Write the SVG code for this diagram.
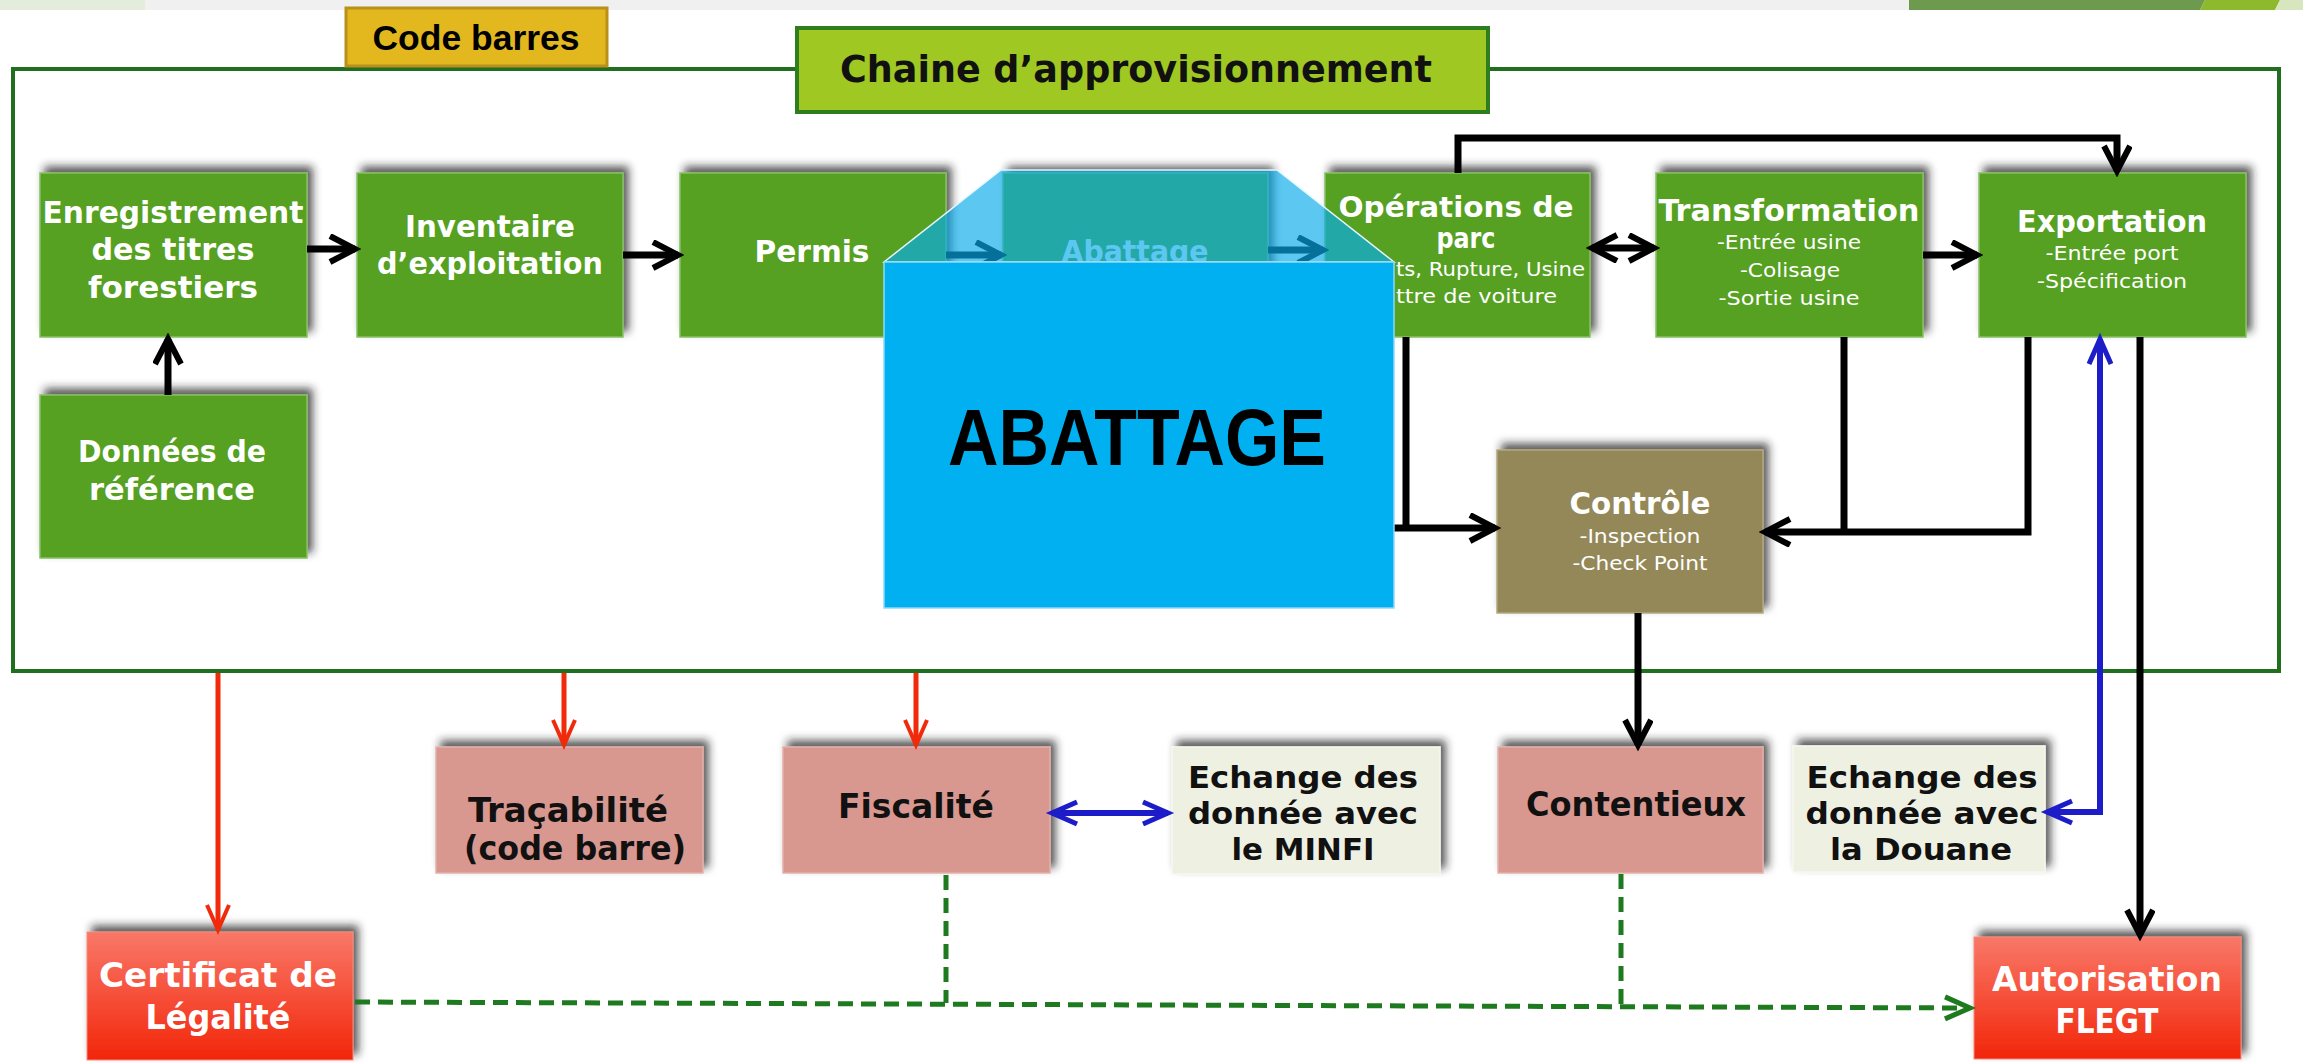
<svg xmlns="http://www.w3.org/2000/svg" width="2303" height="1063" viewBox="0 0 2303 1063">
<style>
.t{font-family:'DejaVu Sans Condensed','DejaVu Sans',sans-serif;font-stretch:condensed;font-weight:bold;text-anchor:middle}
.w{fill:#ffffff}
.k{fill:#111111}
.big{font-size:31px}
.sub{font-size:20px;font-weight:normal}
.lbl{font-size:34px}
.lbl3{font-size:31px}
.green{fill:#57A023;stroke:#86C063;stroke-width:1.5}
.pink{fill:#D8978F;stroke:#E2B0AA;stroke-width:1.5}
.cream{fill:#EEF0E2;stroke:#F6F7EE;stroke-width:1.5}
.brown{fill:#948858;stroke:#B2A87E;stroke-width:1.5}
.redg{fill:url(#rg);stroke:#F58A7A;stroke-width:1}
.blk{stroke:#000;stroke-width:7;fill:none}
.red{stroke:#F02A0A;stroke-width:5;fill:none}
.blu{stroke:#1C1CC8;stroke-width:6;fill:none}
.dash{stroke:#1E7A1E;stroke-width:5;fill:none;stroke-dasharray:15 8}
</style>
<defs>
<linearGradient id="rg" x1="0" y1="0" x2="0" y2="1">
<stop offset="0" stop-color="#F97868"/>
<stop offset="1" stop-color="#F2260A"/>
</linearGradient>
<filter id="sh" x="-10%" y="-25%" width="130%" height="150%">
<feDropShadow dx="5" dy="-6" stdDeviation="4" flood-color="#222" flood-opacity="0.75"/>
</filter>
<marker id="ak" markerUnits="userSpaceOnUse" markerWidth="36" markerHeight="34" refX="30" refY="15" orient="auto-start-reverse">
<path d="M5,2 L30,15 L5,28" fill="none" stroke="#000" stroke-width="6"/>
</marker>
<marker id="ar" markerUnits="userSpaceOnUse" markerWidth="36" markerHeight="34" refX="28" refY="14" orient="auto-start-reverse">
<path d="M3,3 L28,14 L3,25" fill="none" stroke="#F02A0A" stroke-width="4"/>
</marker>
<marker id="ab" markerUnits="userSpaceOnUse" markerWidth="36" markerHeight="34" refX="28" refY="14" orient="auto-start-reverse">
<path d="M3,3 L28,14 L3,25" fill="none" stroke="#1C1CC8" stroke-width="5"/>
</marker>
<marker id="ag" markerUnits="userSpaceOnUse" markerWidth="36" markerHeight="34" refX="28" refY="14" orient="auto-start-reverse">
<path d="M3,3 L28,14 L3,25" fill="none" stroke="#1E7A1E" stroke-width="5"/>
</marker>
</defs>

<!-- background strip -->
<rect x="0" y="0" width="2303" height="10" fill="#F0F0F0"/>
<rect x="0" y="0" width="145" height="10" fill="#E4ECDC"/>
<polygon points="1909,0 2205,0 2200,10 1909,10" fill="#6E9A4F"/>
<polygon points="2205,0 2280,0 2275,10 2200,10" fill="#8DBA2C"/>
<polygon points="2280,0 2303,0 2303,10 2275,10" fill="#D8E6C0"/>
<rect x="0" y="10" width="2303" height="1053" fill="#FFFFFF"/>

<!-- outer frame -->
<rect id="frame" x="13" y="69" width="2266" height="602" fill="none" stroke="#1F6F1F" stroke-width="4"/>

<g id="n-codebarres">
<rect x="346" y="8" width="261" height="58" fill="#E2B81E" stroke="#B8901A" stroke-width="3"/>
<text x="476" y="50" font-family="'Liberation Sans',Arial,sans-serif" font-weight="bold" font-size="35" text-anchor="middle" fill="#000" textLength="207" lengthAdjust="spacingAndGlyphs">Code barres</text>
</g>
<g id="n-chaine">
<rect x="797" y="28" width="691" height="84" fill="#A0C823" stroke="#2E7D1E" stroke-width="4"/>
<text class="t k" x="1136" y="82" font-size="38" textLength="592" lengthAdjust="spacingAndGlyphs">Chaine d’approvisionnement</text>
</g>

<!-- nodes -->
<g id="n-enregistrement">
<rect class="green" x="40" y="173" width="267" height="164" filter="url(#sh)"/>
<text class="t w big" x="173" y="223" textLength="261" lengthAdjust="spacingAndGlyphs">Enregistrement</text>
<text class="t w big" x="173" y="260" textLength="163" lengthAdjust="spacingAndGlyphs">des titres</text>
<text class="t w big" x="173" y="298" textLength="170" lengthAdjust="spacingAndGlyphs">forestiers</text>
</g>
<g id="n-inventaire">
<rect class="green" x="357" y="173" width="266" height="164" filter="url(#sh)"/>
<text class="t w big" x="490" y="237" textLength="170" lengthAdjust="spacingAndGlyphs">Inventaire</text>
<text class="t w big" x="490" y="274" textLength="226" lengthAdjust="spacingAndGlyphs">d’exploitation</text>
</g>
<g id="n-permis">
<rect class="green" x="680" y="173" width="266" height="164" filter="url(#sh)"/>
<text class="t w big" x="812" y="262" textLength="115" lengthAdjust="spacingAndGlyphs">Permis</text>
</g>
<g id="n-abattage">
<rect class="green" x="1003" y="173" width="265" height="164" filter="url(#sh)"/>
<text class="t w big" x="1135" y="262" textLength="147" lengthAdjust="spacingAndGlyphs">Abattage</text>
</g>
<g id="n-operations">
<rect class="green" x="1325" y="173" width="265" height="164" filter="url(#sh)"/>
<text class="t w" x="1456" y="217" font-size="29" textLength="235" lengthAdjust="spacingAndGlyphs">Opérations de</text>
<text class="t w" x="1466" y="248" font-size="29" textLength="59" lengthAdjust="spacingAndGlyphs">parc</text>
<text class="t w sub" x="1396" y="276" style="text-anchor:start" textLength="189" lengthAdjust="spacingAndGlyphs">ts, Rupture, Usine</text>
<text class="t w sub" x="1396" y="303" style="text-anchor:start" textLength="161" lengthAdjust="spacingAndGlyphs">ttre de voiture</text>
</g>
<g id="n-transformation">
<rect class="green" x="1656" y="173" width="267" height="164" filter="url(#sh)"/>
<text class="t w big" x="1789" y="221" textLength="261" lengthAdjust="spacingAndGlyphs">Transformation</text>
<text class="t w sub" x="1789" y="249" textLength="144" lengthAdjust="spacingAndGlyphs">-Entrée usine</text>
<text class="t w sub" x="1790" y="277" textLength="100" lengthAdjust="spacingAndGlyphs">-Colisage</text>
<text class="t w sub" x="1789" y="305" textLength="141" lengthAdjust="spacingAndGlyphs">-Sortie usine</text>
</g>
<g id="n-exportation">
<rect class="green" x="1979" y="173" width="267" height="164" filter="url(#sh)"/>
<text class="t w big" x="2112" y="232" textLength="190" lengthAdjust="spacingAndGlyphs">Exportation</text>
<text class="t w sub" x="2112" y="260" textLength="133" lengthAdjust="spacingAndGlyphs">-Entrée port</text>
<text class="t w sub" x="2112" y="288" textLength="150" lengthAdjust="spacingAndGlyphs">-Spécification</text>
</g>
<g id="n-donnees">
<rect class="green" x="40" y="395" width="267" height="163" filter="url(#sh)"/>
<text class="t w big" x="172" y="462" textLength="188" lengthAdjust="spacingAndGlyphs">Données de</text>
<text class="t w big" x="172" y="500" textLength="166" lengthAdjust="spacingAndGlyphs">référence</text>
</g>
<g id="n-controle">
<rect class="brown" x="1497" y="450" width="266" height="163" filter="url(#sh)"/>
<text class="t w" x="1640" y="514" font-size="30" textLength="141" lengthAdjust="spacingAndGlyphs">Contrôle</text>
<text class="t w sub" x="1640" y="543" font-size="19" textLength="121" lengthAdjust="spacingAndGlyphs">-Inspection</text>
<text class="t w sub" x="1640" y="570" font-size="19" textLength="135" lengthAdjust="spacingAndGlyphs">-Check Point</text>
</g>
<g id="n-tracabilite">
<rect class="pink" x="436" y="747" width="267" height="126" filter="url(#sh)"/>
<text class="t k lbl" x="568" y="822" textLength="200" lengthAdjust="spacingAndGlyphs">Traçabilité</text>
<text class="t k lbl" x="575" y="860" textLength="222" lengthAdjust="spacingAndGlyphs">(code barre)</text>
</g>
<g id="n-fiscalite">
<rect class="pink" x="783" y="747" width="267" height="126" filter="url(#sh)"/>
<text class="t k lbl" x="916" y="818" textLength="156" lengthAdjust="spacingAndGlyphs">Fiscalité</text>
</g>
<g id="n-minfi">
<rect class="cream" x="1172" y="747" width="268" height="127" filter="url(#sh)"/>
<text class="t k lbl3" x="1303" y="788" textLength="230" lengthAdjust="spacingAndGlyphs">Echange des</text>
<text class="t k lbl3" x="1303" y="824" textLength="230" lengthAdjust="spacingAndGlyphs">donnée avec</text>
<text class="t k lbl3" x="1303" y="860" textLength="143" lengthAdjust="spacingAndGlyphs">le MINFI</text>
</g>
<g id="n-contentieux">
<rect class="pink" x="1498" y="747" width="265" height="126" filter="url(#sh)"/>
<text class="t k lbl" x="1636" y="816" textLength="220" lengthAdjust="spacingAndGlyphs">Contentieux</text>
</g>
<g id="n-douane">
<rect class="cream" x="1793" y="746" width="252" height="126" filter="url(#sh)"/>
<text class="t k lbl3" x="1922" y="788" textLength="231" lengthAdjust="spacingAndGlyphs">Echange des</text>
<text class="t k lbl3" x="1922" y="824" textLength="233" lengthAdjust="spacingAndGlyphs">donnée avec</text>
<text class="t k lbl3" x="1921" y="860" textLength="182" lengthAdjust="spacingAndGlyphs">la Douane</text>
</g>
<g id="n-certificat">
<rect class="redg" x="87" y="932" width="266" height="128" filter="url(#sh)"/>
<text class="t w lbl" x="218" y="987" textLength="238" lengthAdjust="spacingAndGlyphs">Certificat de</text>
<text class="t w lbl" x="218" y="1029" textLength="145" lengthAdjust="spacingAndGlyphs">Légalité</text>
</g>
<g id="n-flegt">
<rect class="redg" x="1974" y="937" width="267" height="122" filter="url(#sh)"/>
<text class="t w lbl" x="2107" y="991" textLength="230" lengthAdjust="spacingAndGlyphs">Autorisation</text>
<text class="t w lbl" x="2107" y="1033" textLength="103" lengthAdjust="spacingAndGlyphs">FLEGT</text>
</g>

<!-- connectors -->
<g id="connectors">
<path class="blk" d="M307,249 H355" marker-end="url(#ak)"/>
<path class="blk" d="M623,255 H678" marker-end="url(#ak)"/>
<path class="blk" d="M946,255 H1001" marker-end="url(#ak)"/>
<path class="blk" d="M1268,250 H1323" marker-end="url(#ak)"/>
<path class="blk" d="M1592,248 H1654" marker-start="url(#ak)" marker-end="url(#ak)"/>
<path class="blk" d="M1923,255 H1977" marker-end="url(#ak)"/>
<path class="blk" d="M168,395 V339" marker-end="url(#ak)"/>
<path class="blk" d="M1458,173 V138 H2117 V171" marker-end="url(#ak)"/>
<path class="blk" d="M1406,337 V528 M1394,528 H1495" marker-end="url(#ak)"/>
<path class="blk" d="M1844,337 V532 M2028,337 V532 H1765" marker-end="url(#ak)"/>
<path class="blk" d="M1638,613 V745" marker-end="url(#ak)"/>
<path class="blk" d="M2140,337 V935" marker-end="url(#ak)"/>
<path class="blu" d="M2047,812 H2100 V339" marker-start="url(#ab)" marker-end="url(#ab)"/>
<path class="blu" d="M1052,813 H1168" marker-start="url(#ab)" marker-end="url(#ab)"/>
<path class="red" d="M218,673 V930" marker-end="url(#ar)"/>
<path class="red" d="M564,673 V745" marker-end="url(#ar)"/>
<path class="red" d="M916,673 V745" marker-end="url(#ar)"/>
<path class="dash" d="M355,1002 L1970,1008" marker-end="url(#ag)"/>
<path class="dash" d="M946,875 V1003"/>
<path class="dash" d="M1621,874 V1006"/>
</g>

<!-- zoom callout overlay -->
<g id="abattage-callout">
<polygon points="1001,170 1277,170 1394,262 884,262" fill="#07ACEB" fill-opacity="0.66" stroke="#E4F6FD" stroke-width="1.5"/>
<rect x="884" y="262" width="510" height="346" fill="#00B0F0" stroke="#8ED9F7" stroke-width="1.5"/>
<text x="1137" y="465" font-family="'Liberation Sans',Arial,sans-serif" font-weight="bold" font-size="80" text-anchor="middle" fill="#000" textLength="378" lengthAdjust="spacingAndGlyphs">ABATTAGE</text>
</g>
</svg>
